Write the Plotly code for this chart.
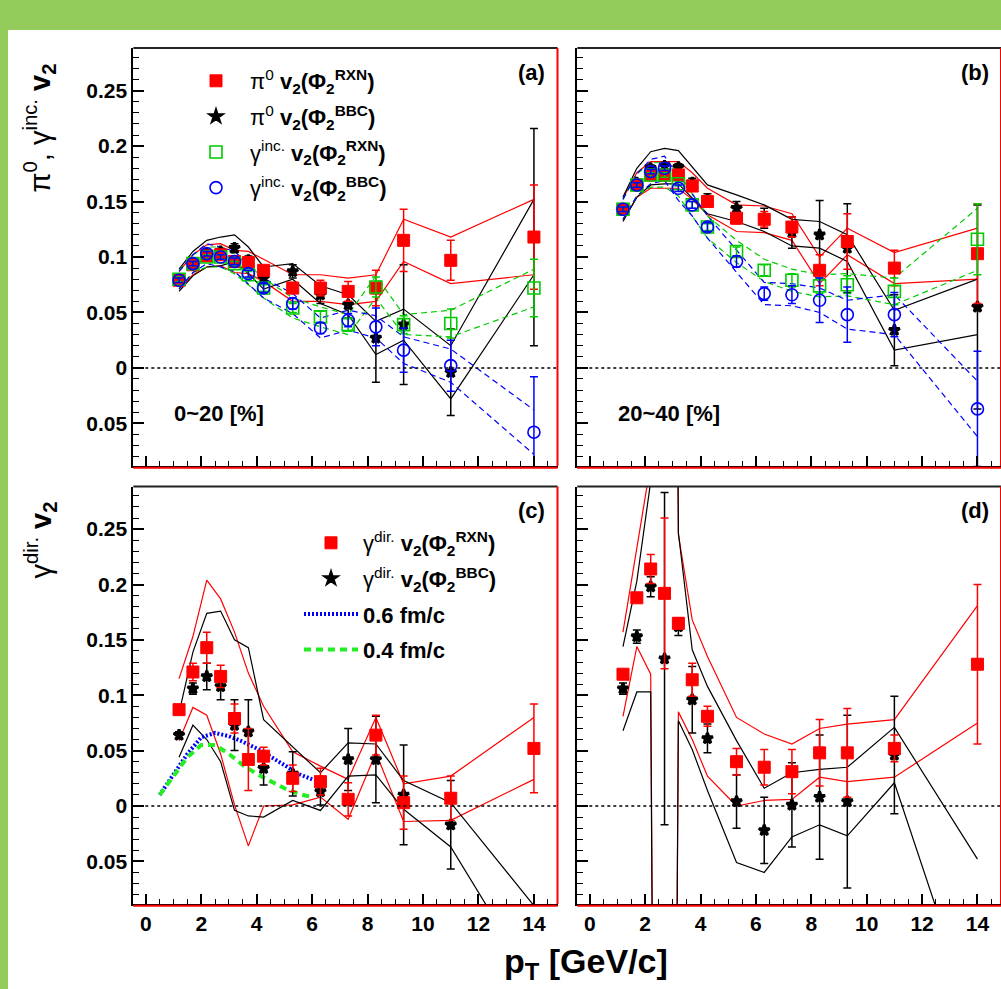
import plotly.graph_objects as go

W, H = 1001, 989
FONT = "Liberation Sans"

# ---------------- data ----------------
PT = [1.2, 1.7, 2.2, 2.7, 3.2, 3.7, 4.25, 5.3, 6.3, 7.3, 8.3, 9.3, 11.0, 14.0]

# panel (a) 0-20 %
A_PI0_RXN = [0.079, 0.093, 0.101, 0.102, 0.096, 0.095, 0.088, 0.072, 0.072, 0.069, 0.072, 0.115, 0.097, 0.118]
A_PI0_RXN_ERR = [0.003, 0.003, 0.003, 0.003, 0.003, 0.003, 0.004, 0.005, 0.007, 0.009, 0.016, 0.028, 0.018, 0.047]
A_PI0_RXN_SYS = [0.008, 0.009, 0.010, 0.010, 0.010, 0.010, 0.010, 0.012, 0.012, 0.012, 0.012, 0.019, 0.021, 0.034]
A_PI0_BBC = [0.079, 0.094, 0.103, 0.105, 0.108, 0.097, 0.081, 0.087, 0.066, 0.057, 0.027, 0.039, -0.004, 0.118]
A_PI0_BBC_ERR = [0.003, 0.003, 0.003, 0.003, 0.004, 0.004, 0.005, 0.006, 0.008, 0.012, 0.040, 0.054, 0.039, 0.098]
A_PI0_BBC_SYS = [0.010, 0.011, 0.012, 0.013, 0.012, 0.012, 0.010, 0.007, 0.008, 0.009, 0.015, 0.014, 0.024, 0.034]
A_GINC_RXN = [0.080, 0.094, 0.100, 0.100, 0.094, 0.084, 0.072, 0.054, 0.046, 0.039, 0.073, 0.039, 0.040, 0.072]
A_GINC_RXN_ERR = [0.002, 0.002, 0.002, 0.002, 0.002, 0.003, 0.003, 0.004, 0.005, 0.006, 0.009, 0.008, 0.013, 0.026]
A_GINC_RXN_SYS = [0.008, 0.008, 0.009, 0.009, 0.009, 0.009, 0.009, 0.009, 0.009, 0.009, 0.010, 0.009, 0.012, 0.017]
A_GINC_BBC = [0.079, 0.094, 0.103, 0.100, 0.096, 0.085, 0.072, 0.058, 0.036, 0.043, 0.037, 0.016, 0.002, -0.058]
A_GINC_BBC_ERR = [0.002, 0.002, 0.002, 0.002, 0.003, 0.003, 0.004, 0.005, 0.005, 0.006, 0.017, 0.020, 0.023, 0.050]
A_GINC_BBC_SYS = [0.008, 0.008, 0.009, 0.009, 0.009, 0.009, 0.009, 0.009, 0.009, 0.009, 0.010, 0.012, 0.015, 0.020]

# panel (b) 20-40 %
B_PI0_RXN = [0.143, 0.165, 0.174, 0.174, 0.174, 0.164, 0.150, 0.135, 0.134, 0.127, 0.088, 0.114, 0.090, 0.103]
B_PI0_RXN_ERR = [0.003, 0.003, 0.003, 0.003, 0.003, 0.003, 0.004, 0.005, 0.007, 0.009, 0.014, 0.025, 0.016, 0.045]
B_PI0_RXN_SYS = [0.010, 0.011, 0.012, 0.012, 0.012, 0.012, 0.012, 0.012, 0.012, 0.012, 0.012, 0.012, 0.014, 0.023]
B_PI0_BBC = [0.143, 0.167, 0.180, 0.182, 0.181, 0.167, 0.152, 0.144, 0.135, 0.122, 0.120, 0.108, 0.034, 0.055]
B_PI0_BBC_ERR = [0.003, 0.003, 0.003, 0.003, 0.003, 0.004, 0.005, 0.006, 0.009, 0.014, 0.031, 0.040, 0.032, 0.092]
B_PI0_BBC_SYS = [0.011, 0.013, 0.015, 0.016, 0.015, 0.014, 0.013, 0.012, 0.012, 0.012, 0.012, 0.012, 0.018, 0.025]
B_GINC_RXN = [0.143, 0.165, 0.174, 0.174, 0.166, 0.147, 0.127, 0.105, 0.088, 0.079, 0.074, 0.075, 0.069, 0.116]
B_GINC_RXN_ERR = [0.002, 0.002, 0.002, 0.002, 0.002, 0.003, 0.003, 0.004, 0.005, 0.006, 0.007, 0.008, 0.012, 0.032]
B_GINC_RXN_SYS = [0.009, 0.010, 0.011, 0.011, 0.011, 0.010, 0.010, 0.010, 0.010, 0.010, 0.010, 0.010, 0.012, 0.028]
B_GINC_BBC = [0.143, 0.165, 0.177, 0.180, 0.162, 0.147, 0.127, 0.096, 0.067, 0.066, 0.061, 0.048, 0.048, -0.037]
B_GINC_BBC_ERR = [0.002, 0.002, 0.002, 0.002, 0.003, 0.003, 0.004, 0.005, 0.006, 0.008, 0.020, 0.025, 0.020, 0.052]
B_GINC_BBC_SYS = [0.009, 0.010, 0.011, 0.011, 0.011, 0.010, 0.010, 0.010, 0.010, 0.010, 0.011, 0.013, 0.018, 0.025]

# panel (c) direct photon 0-20 %
C_GDIR_RXN = [0.087, 0.121, 0.143, 0.117, 0.079, 0.042, 0.045, 0.025, 0.022, 0.006, 0.064, 0.003, 0.007, 0.052]
C_GDIR_RXN_ERR = [0.004, 0.008, 0.014, 0.010, 0.013, 0.028, 0.008, 0.012, 0.012, 0.015, 0.018, 0.024, 0.020, 0.040]
C_GDIR_RXN_SYS = [0.028, 0.032, 0.061, 0.070, 0.078, 0.078, 0.045, 0.024, 0.014, 0.018, 0.016, 0.017, 0.020, 0.028]
C_GDIR_BBC = [0.064, 0.106, 0.117, 0.108, 0.073, 0.067, 0.034, 0.029, 0.013, 0.042, 0.042, 0.010, -0.017, -0.125]
C_GDIR_BBC_ERR = [0.003, 0.005, 0.012, 0.012, 0.023, 0.029, 0.015, 0.020, 0.012, 0.028, 0.039, 0.045, 0.040, 0.0]
C_GDIR_BBC_SYS = [0.020, 0.033, 0.057, 0.068, 0.077, 0.076, 0.044, 0.024, 0.017, 0.015, 0.014, 0.013, 0.020, 0.035]

# panel (d) direct photon 20-40 %
D_GDIR_RXN = [0.119, 0.188, 0.214, 0.192, 0.165, 0.114, 0.081, 0.040, 0.035, 0.031, 0.048, 0.048, 0.052, 0.128]
D_GDIR_RXN_ERR = [0.003, 0.004, 0.013, 0.068, 0.005, 0.015, 0.009, 0.012, 0.016, 0.020, 0.030, 0.040, 0.012, 0.072]
D_GDIR_RXN_SYS = [0.038, 0.044, 0.095, 2.000, 0.080, 0.054, 0.054, 0.040, 0.030, 0.025, 0.022, 0.026, 0.026, 0.053]
D_GDIR_BBC = [0.106, 0.153, 0.198, 0.133, 0.162, 0.096, 0.061, 0.004, -0.022, 0.001, 0.008, 0.004, 0.046, -0.126]
D_GDIR_BBC_ERR = [0.005, 0.006, 0.009, 0.150, 0.008, 0.030, 0.013, 0.024, 0.030, 0.038, 0.056, 0.078, 0.053, 0.0]
D_GDIR_BBC_SYS = [0.038, 0.050, 0.095, 2.000, 0.085, 0.045, 0.047, 0.055, 0.038, 0.029, 0.025, 0.031, 0.025, 0.078]

# model curves (panel c)
TH_PT = [0.5, 1.0, 1.5, 2.0, 2.5, 3.0, 3.5, 4.0, 4.5, 5.0, 5.5, 6.0]
TH_06 = [0.010, 0.028, 0.047, 0.062, 0.066, 0.063, 0.058, 0.052, 0.045, 0.037, 0.029, 0.024]
TH_04 = [0.010, 0.027, 0.044, 0.055, 0.055, 0.047, 0.037, 0.029, 0.022, 0.016, 0.011, 0.008]

Y_TICKS = [-0.05, 0, 0.05, 0.1, 0.15, 0.2, 0.25]
Y_TICKTEXT = ["0.05", "0", "0.05", "0.1", "0.15", "0.2", "0.25"]
X_RANGE = [-0.45, 14.85]
Y_RANGE = [-0.0885, 0.2885]

RED, BLACK, GREEN, BLUE = "#ff0000", "#000000", "#00cc00", "#0000ff"


def px(x):
    return x / W


def py(y):
    return 1 - y / H


fig = go.Figure()


def add_band(xa, ya, vals, sys, color, dash):
    hi = [v + s for v, s in zip(vals, sys)]
    lo = [v - s for v, s in zip(vals, sys)]
    for b in (hi, lo):
        fig.add_trace(go.Scatter(x=PT, y=b, mode="lines", xaxis=xa, yaxis=ya,
                                 line=dict(color=color, width=1.2, dash=dash),
                                 showlegend=False, hoverinfo="skip"))


def add_points(xa, ya, vals, err, color, symbol, size, name=None, legend="legend", rank=1,
               lw=1.0):
    marker = dict(symbol=symbol, size=size, color=color, line=dict(color=color, width=lw))
    fig.add_trace(go.Scatter(
        x=PT, y=vals, mode="markers", xaxis=xa, yaxis=ya, marker=marker,
        error_y=dict(type="data", array=err, color=color, thickness=1.5, width=4),
        name=name if name else "", showlegend=name is not None, legend=legend,
        legendgroup=(name or "") + legend, legendrank=rank, hoverinfo="skip"))


SQ = 12
STAR = 8
STAR_LW = 3
OPEN_LW = 1.6

# ---- panel a ----
add_band("x", "y", A_PI0_RXN, A_PI0_RXN_SYS, RED, "solid")
add_band("x", "y", A_PI0_BBC, A_PI0_BBC_SYS, BLACK, "solid")
add_band("x", "y", A_GINC_RXN, A_GINC_RXN_SYS, GREEN, "6px,4px")
add_band("x", "y", A_GINC_BBC, A_GINC_BBC_SYS, BLUE, "6px,4px")
add_points("x", "y", A_PI0_BBC, A_PI0_BBC_ERR, BLACK, "star", STAR,
           "π<sup>0</sup> <b>v<sub>2</sub>(Φ<sub>2</sub><sup>BBC</sup>)</b>", "legend", 2, STAR_LW)
add_points("x", "y", A_PI0_RXN, A_PI0_RXN_ERR, RED, "square", SQ,
           "π<sup>0</sup> <b>v<sub>2</sub>(Φ<sub>2</sub><sup>RXN</sup>)</b>", "legend", 1)
add_points("x", "y", A_GINC_RXN, A_GINC_RXN_ERR, GREEN, "square-open", SQ,
           "γ<sup>inc.</sup> <b>v<sub>2</sub>(Φ<sub>2</sub><sup>RXN</sup>)</b>", "legend", 3, OPEN_LW)
add_points("x", "y", A_GINC_BBC, A_GINC_BBC_ERR, BLUE, "circle-open", SQ,
           "γ<sup>inc.</sup> <b>v<sub>2</sub>(Φ<sub>2</sub><sup>BBC</sup>)</b>", "legend", 4, OPEN_LW)

# ---- panel b ----
add_band("x2", "y2", B_PI0_RXN, B_PI0_RXN_SYS, RED, "solid")
add_band("x2", "y2", B_PI0_BBC, B_PI0_BBC_SYS, BLACK, "solid")
add_band("x2", "y2", B_GINC_RXN, B_GINC_RXN_SYS, GREEN, "6px,4px")
add_band("x2", "y2", B_GINC_BBC, B_GINC_BBC_SYS, BLUE, "6px,4px")
add_points("x2", "y2", B_PI0_BBC, B_PI0_BBC_ERR, BLACK, "star", STAR, lw=STAR_LW)
add_points("x2", "y2", B_PI0_RXN, B_PI0_RXN_ERR, RED, "square", SQ)
add_points("x2", "y2", B_GINC_RXN, B_GINC_RXN_ERR, GREEN, "square-open", SQ, lw=OPEN_LW)
add_points("x2", "y2", B_GINC_BBC, B_GINC_BBC_ERR, BLUE, "circle-open", SQ, lw=OPEN_LW)

# ---- panel c ----
add_band("x3", "y3", C_GDIR_RXN, C_GDIR_RXN_SYS, RED, "solid")
add_band("x3", "y3", C_GDIR_BBC, C_GDIR_BBC_SYS, BLACK, "solid")
fig.add_trace(go.Scatter(x=TH_PT, y=TH_06, mode="lines", xaxis="x3", yaxis="y3",
                         line=dict(color=BLUE, width=4, dash="2px,2px"),
                         name="<b>0.6 fm/c</b>", legend="legend2", legendgroup="th06",
                         legendrank=3, hoverinfo="skip"))
fig.add_trace(go.Scatter(x=TH_PT, y=TH_04, mode="lines", xaxis="x3", yaxis="y3",
                         line=dict(color="#22ee22", width=4, dash="7px,5px"),
                         name="<b>0.4 fm/c</b>", legend="legend2", legendgroup="th04",
                         legendrank=4, hoverinfo="skip"))
add_points("x3", "y3", C_GDIR_BBC, C_GDIR_BBC_ERR, BLACK, "star", STAR,
           "γ<sup>dir.</sup> <b>v<sub>2</sub>(Φ<sub>2</sub><sup>BBC</sup>)</b>", "legend2", 2, STAR_LW)
add_points("x3", "y3", C_GDIR_RXN, C_GDIR_RXN_ERR, RED, "square", SQ,
           "γ<sup>dir.</sup> <b>v<sub>2</sub>(Φ<sub>2</sub><sup>RXN</sup>)</b>", "legend2", 1)

# ---- panel d ----
add_band("x4", "y4", D_GDIR_RXN, D_GDIR_RXN_SYS, RED, "solid")
add_band("x4", "y4", D_GDIR_BBC, D_GDIR_BBC_SYS, BLACK, "solid")
add_points("x4", "y4", D_GDIR_BBC, D_GDIR_BBC_ERR, BLACK, "star", STAR, lw=STAR_LW)
add_points("x4", "y4", D_GDIR_RXN, D_GDIR_RXN_ERR, RED, "square", SQ)

# ---------------- axes ----------------
TICKFONT = dict(family=FONT, size=21, color="black", weight="bold")
XDOM_L = [px(133.3), px(557.5)]
XDOM_R = [px(577.3), 1.0]
YDOM_T = [py(466), py(48)]
YDOM_B = [py(904), py(486.5)]


def xaxis(domain, anchor, labels):
    return dict(domain=domain, anchor=anchor, range=X_RANGE, showgrid=False, zeroline=False,
                showline=True, linecolor="black", linewidth=1.5,
                tickmode="linear", tick0=0, dtick=2, ticks="inside", ticklen=10,
                tickwidth=1.5, tickcolor="black", showticklabels=labels, tickfont=TICKFONT,
                minor=dict(tickmode="linear", tick0=0, dtick=0.5, ticks="inside", ticklen=5,
                           tickwidth=1.2, tickcolor="black"))


def yaxis(domain, anchor, labels):
    return dict(domain=domain, anchor=anchor, range=Y_RANGE, showgrid=False, zeroline=False,
                showline=True, linecolor="black", linewidth=2,
                tickmode="array", tickvals=Y_TICKS, ticktext=Y_TICKTEXT, ticks="inside",
                ticklen=11, tickwidth=1.5, tickcolor="black", showticklabels=labels,
                tickfont=TICKFONT,
                minor=dict(tickmode="linear", tick0=0, dtick=0.01, ticks="inside", ticklen=6,
                           tickwidth=1.2, tickcolor="black"))


layout_axes = dict(
    xaxis=xaxis(XDOM_L, "y", False), yaxis=yaxis(YDOM_T, "x", True),
    xaxis2=xaxis(XDOM_R, "y2", False), yaxis2=yaxis(YDOM_T, "x2", False),
    xaxis3=xaxis(XDOM_L, "y3", True), yaxis3=yaxis(YDOM_B, "x3", True),
    xaxis4=xaxis(XDOM_R, "y4", True), yaxis4=yaxis(YDOM_B, "x4", False),
)

# ---------------- shapes ----------------
shapes = [dict(type="rect", xref="paper", yref="paper", x0=px(8), x1=1.0, y0=0, y1=py(30),
               fillcolor="white", line=dict(width=0), layer="below")]
for xa, ya in (("x", "y"), ("x2", "y2"), ("x3", "y3"), ("x4", "y4")):
    xd, yd = xa + " domain", ya + " domain"
    shapes += [
        dict(type="line", xref=xd, yref=ya, x0=0, x1=1, y0=0, y1=0,
             line=dict(color="black", width=1.5, dash="dot")),
        dict(type="line", xref=xd, yref=yd, x0=0, x1=1, y0=1, y1=1,
             line=dict(color="#222222", width=2)),
        dict(type="line", xref=xd, yref=yd, x0=1, x1=1, y0=0, y1=1,
             line=dict(color=RED, width=2)),
        dict(type="line", xref=xd, yref=yd, x0=0, x1=1, y0=-0.004, y1=-0.004,
             line=dict(color=RED, width=2)),
    ]

# ---------------- annotations ----------------
ann = []


def label(x, y, text, xanchor="center", size=22, angle=0, yanchor="middle"):
    ann.append(dict(xref="paper", yref="paper", x=px(x), y=py(y), text=text, showarrow=False,
                    xanchor=xanchor, yanchor=yanchor, textangle=angle,
                    font=dict(family=FONT, size=size, color="black")))


label(531, 73, "<b>(a)</b>")
label(975, 73, "<b>(b)</b>")
label(531, 510, "<b>(c)</b>")
label(975, 510, "<b>(d)</b>")
label(172, 413, "<b>0~20 [%]</b>", xanchor="left")
label(616, 413, "<b>20~40 [%]</b>", xanchor="left")
label(586, 963, "<b>p<sub>T</sub> [GeV/c]</b>", size=34)
label(40, 62, "π<sup>0</sup>, γ<sup>inc.</sup> <b>v<sub>2</sub></b>", size=29, angle=-90, yanchor="top")
label(40, 500, "γ<sup>dir.</sup> <b>v<sub>2</sub></b>", size=29, angle=-90, yanchor="top")

LEGFONT = dict(family=FONT, size=22, color="black")
fig.update_layout(
    width=W, height=H, margin=dict(l=0, r=0, t=0, b=0),
    paper_bgcolor="#93cc5b", plot_bgcolor="rgba(0,0,0,0)",
    showlegend=True,
    legend=dict(x=px(182), y=py(60), xanchor="left", yanchor="top", bgcolor="rgba(0,0,0,0)",
                font=LEGFONT, traceorder="grouped", tracegroupgap=4, itemwidth=58),
    legend2=dict(x=px(299), y=py(522), xanchor="left", yanchor="top", bgcolor="rgba(0,0,0,0)",
                 font=LEGFONT, traceorder="grouped", tracegroupgap=4, itemwidth=54),
    shapes=shapes, annotations=ann, **layout_axes,
)

fig.write_html("out.html", config={"displayModeBar": False},
               post_script="document.body.style.margin='0';document.body.style.overflow='hidden';")
